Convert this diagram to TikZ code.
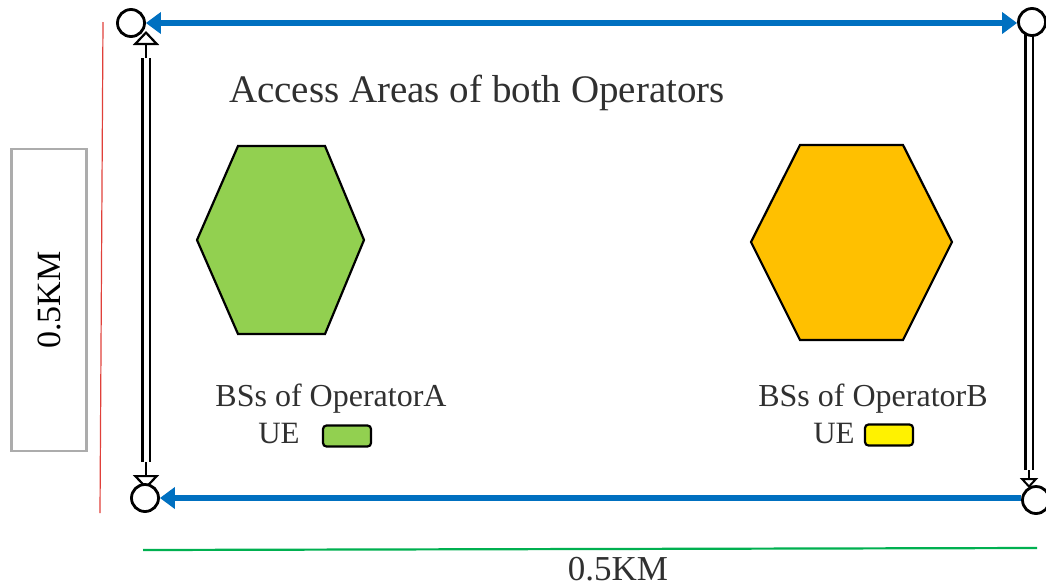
\documentclass[tikz,border=0pt]{standalone}
\usepackage{fontspec}
\setmainfont{Liberation Serif}
\usetikzlibrary{arrows.meta}
\definecolor{bluearr}{HTML}{0070C0}
\definecolor{greenfill}{HTML}{92D050}
\definecolor{orangefill}{HTML}{FFC000}
\definecolor{redline}{HTML}{E0403A}
\definecolor{greenline}{HTML}{00B050}
\definecolor{txt}{HTML}{303030}
\tikzset{
  btip/.tip={Triangle[length=15pt, width=21pt]},
  corner/.style={circle, draw=black, line width=2.8pt, fill=white, minimum size=27pt, inner sep=0pt},
  bluearrow/.style={draw=bluearr, line width=6pt},
  dblline/.style={draw=black, line width=2.6pt, double=white, double distance=5pt},
  opentip/.style={-{Triangle[open, length=14pt, width=26pt, line width=2.2pt, fill=white]}},
  hexa/.style={draw=black, line width=2.2pt, line join=miter},
  uebox/.style={draw=black, line width=2.2pt, rounded corners=3.5pt, minimum width=48pt, minimum height=21pt, inner sep=0pt},
  lbl/.style={text=txt, inner sep=0pt, anchor=base},
}
\begin{document}
\begin{tikzpicture}[x=1pt, y=-1pt]
\useasboundingbox (0,0) rectangle (1046,587);
% measuring lines
\coordinate (r1) at (103,22);
\coordinate (r2) at (100,513);
\draw[redline, line width=1.2pt] (r1) -- (r2);
\coordinate (g1) at (143,550);
\coordinate (g2) at (1037,548);
\draw[greenline, line width=2.2pt] (g1) -- (g2);
% left gray box
\node[draw=gray!65, line width=2.4pt, minimum width=75pt, minimum height=302pt, inner sep=0pt] (lbox) at (49,300) {};
\node[rotate=90, text=black, font=\fontsize{34}{34}\selectfont] (lkm) at (lbox.center) {0.5KM};
% bottom label
\node[text=txt, font=\fontsize{35}{35}\selectfont, anchor=base] (bkm) at (618,580) {0.5KM};
% vertical double lines
\coordinate (lv1) at (146,31);
\coordinate (lv2) at (146,489);
\coordinate (lv1i) at (146,58);
\coordinate (lv2i) at (146,462);
\draw[dblline] (lv1i) -- (lv2i);
\draw[opentip, line width=2.2pt] (lv1i) -- (lv1);
\draw[opentip, line width=2.2pt] (lv2i) -- (lv2);
\coordinate (rv1) at (1029,30);
\coordinate (rv2) at (1029,488);
\coordinate (rv2i) at (1029,470);
\draw[dblline] (rv1) -- (rv2i);
\draw[-{Triangle[open, length=10pt, width=18pt, line width=2pt, fill=white]}, line width=2pt] (rv2i) -- (rv2);
% corners
\node[corner] (tl) at (131,23) {};
\node[corner] (tr) at (1032,22) {};
\node[corner] (bl) at (145,498) {};
\node[corner] (br) at (1036,500) {};
% blue arrows
\draw[bluearrow, {btip}-{btip}] (tl.east) -- (tr.west |- tl.east);
\draw[bluearrow, {btip}-] (bl.east) -- (br.west |- bl.east);
% title
\node[lbl, font=\fontsize{39}{39}\selectfont] (title) at (477,102) {Access Areas of both Operators};
% hexagons
\draw[hexa, fill=greenfill] (197,240) -- (238,146) -- (325,146) -- (364,240) -- (325,334) -- (238,334) -- cycle;
\draw[hexa, fill=orangefill] (751,242) -- (800,145) -- (903,145) -- (952,242) -- (903,340) -- (800,340) -- cycle;
% labels
\node[lbl, font=\fontsize{32}{32}\selectfont] (bsa) at (331,406) {BSs of OperatorA};
\node[lbl, font=\fontsize{31}{31}\selectfont] (uea) at (279,443) {UE};
\node[uebox, fill=greenfill] (boxa) at (347,436) {};
\node[lbl, font=\fontsize{32}{32}\selectfont] (bsb) at (873,406) {BSs of OperatorB};
\node[lbl, font=\fontsize{31}{31}\selectfont] (ueb) at (834,443) {UE};
\node[uebox, fill=yellow] (boxb) at (889,435) {};
\end{tikzpicture}
\end{document}
